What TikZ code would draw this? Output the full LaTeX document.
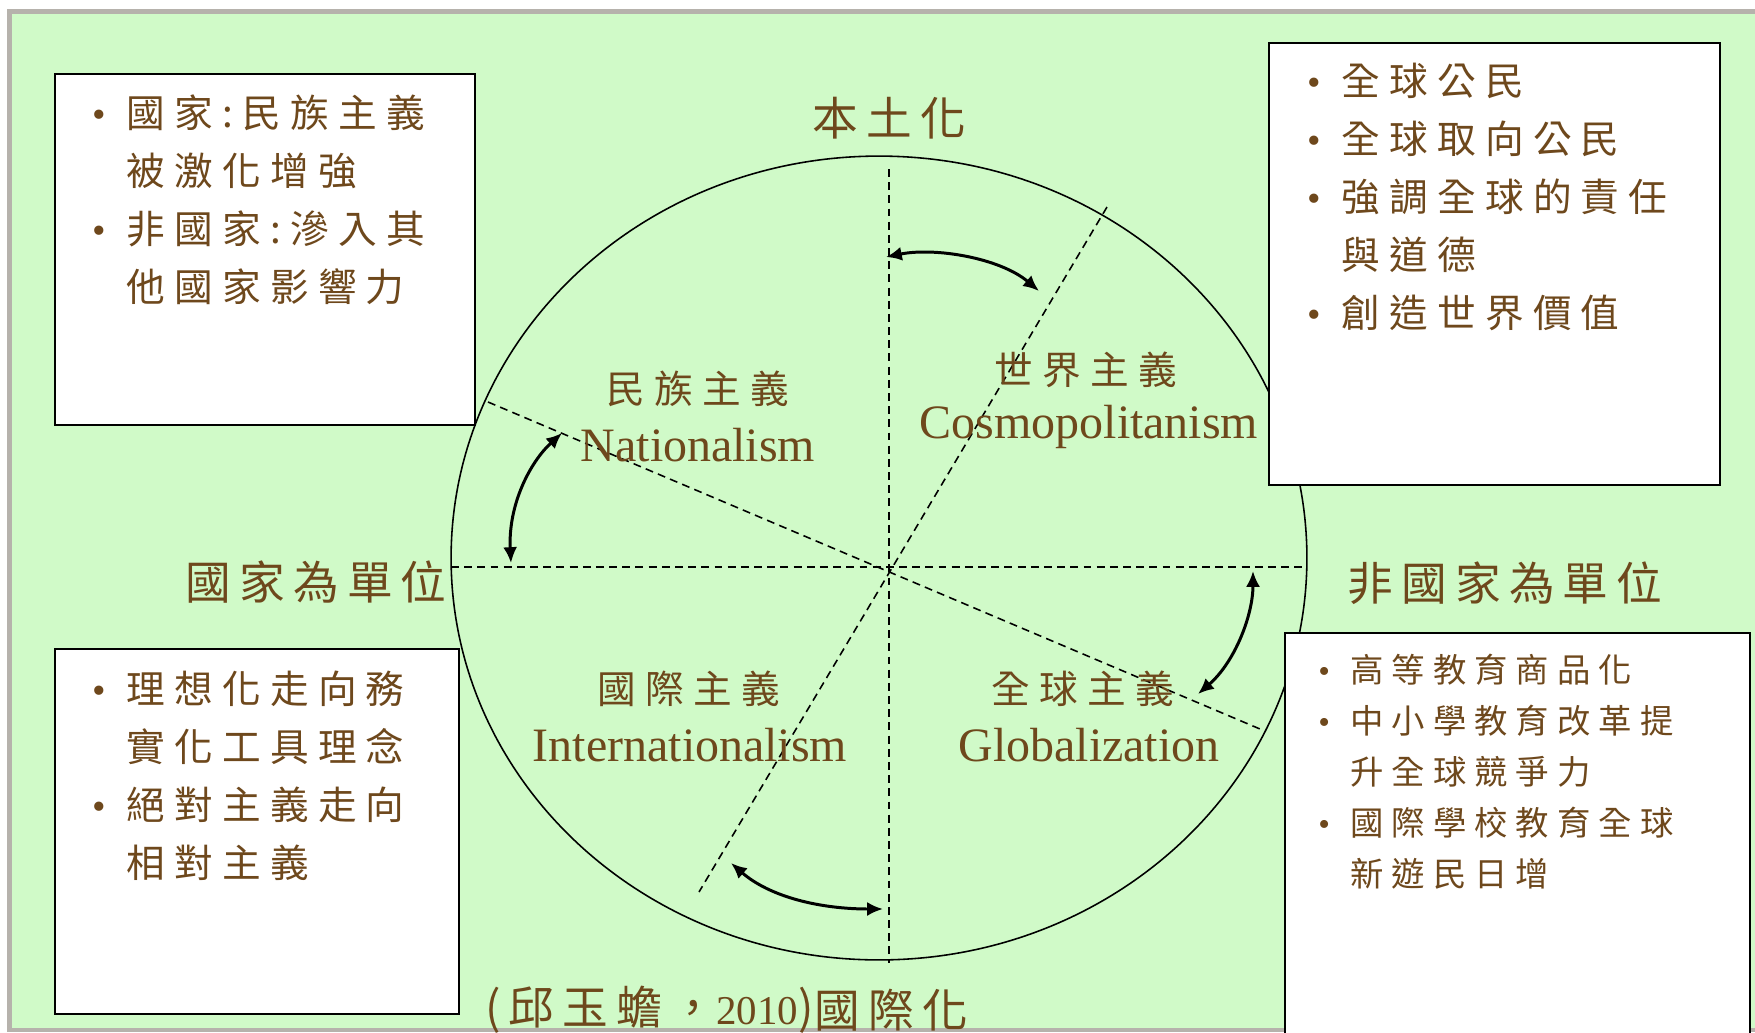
\documentclass[tikz,border=0pt]{standalone}
\usepackage{fontspec}
\setmainfont{Liberation Serif}
\newfontfamily\cjk[LetterSpace=24]{Noto Sans CJK TC}
\newfontfamily\cjkaxis[LetterSpace=18]{Noto Sans CJK TC}
\usetikzlibrary{positioning,arrows.meta}
\definecolor{bgGreen}{RGB}{208,250,200}
\definecolor{frameGray}{RGB}{182,178,172}
\definecolor{txtBrown}{RGB}{110,72,28}
\newcommand{\itm}{\makebox[0.68cm][l]{\rmfamily •}}
\newcommand{\ind}{\hspace*{0.68cm}}
\newcommand{\itms}{\makebox[0.64cm][l]{\rmfamily •}}
\newcommand{\inds}{\hspace*{0.64cm}}

\begin{document}
\begin{tikzpicture}[x=0.02cm, y=-0.02cm,
    box/.style={draw, line width=1pt, fill=white, anchor=north west, inner sep=0pt},
    boxtext/.style={anchor=north west, inner sep=0pt, align=left, text=txtBrown, font=\cjk\fontsize{22}{33}\selectfont},
    axislabel/.style={text=txtBrown, inner sep=0pt, font=\cjkaxis\fontsize{26}{30}\selectfont},
    quadcn/.style={text=txtBrown, inner sep=0pt, font=\cjk\fontsize{22}{26}\selectfont},
    quaden/.style={text=txtBrown, inner sep=0pt, anchor=base, font=\fontsize{27.3}{30}\selectfont},
    axis/.style={dash pattern=on 4.5pt off 3pt, line width=0.9pt},
    swing/.style={{Latex[length=9pt,width=8pt]}-{Latex[length=9pt,width=8pt]}, line width=1.7pt}]
    \useasboundingbox (0,0) rectangle (1755,1032);
    % slide background
    \fill[frameGray] (7,9) rectangle (1755,1032);
    \fill[bgGreen] (12,14) rectangle (1755,1028);

    % circle and axes
    \draw[line width=0.9pt] (879,558) ellipse [x radius=8.56cm, y radius=8.04cm];
    \draw[axis] (889,169) -- (889,963);
    \draw[axis] (451,567) -- (1305,567);
    \draw[axis] (1107,207) -- (699,892);
    \draw[axis] (488,402) -- (1260,729);

    % quadrants
    \node[quadcn] (natcn) at (698,389) {民族主義};
    \node[quaden] (naten) at (698,461) {Nationalism};
    \node[quadcn] (coscn) at (1086,370) {世界主義};
    \node[quaden] (cosen) at (1089,438) {Cosmopolitanism};
    \node[quadcn] (intcn) at (689,689) {國際主義};
    \node[quaden] (inten) at (690,761) {Internationalism};
    \node[quadcn] (glocn) at (1083,689) {全球主義};
    \node[quaden] (gloen) at (1089,761) {Globalization};

    % axis labels
    \node[axislabel] (local) at (889,118) {本土化};
    \node[axislabel] (natunit) at (316,582) {國家為單位};
    \node[axislabel] (nonunit) at (1505,583) {非國家為單位};
    \node[axislabel] (intl) at (891,1010) {國際化};
    \node[axislabel, left=0pt of intl] (cite) {(邱玉蟾，{\rmfamily\fontsize{23.3}{28}\selectfont 2010})};

    % swing arrows
    \coordinate (topa) at (886,257);
    \coordinate (topb) at (1039,291);
    \coordinate (lefta) at (562,433);
    \coordinate (leftb) at (511,563);
    \coordinate (bota) at (731,863);
    \coordinate (botb) at (883,909);
    \coordinate (righta) at (1253,571);
    \coordinate (rightb) at (1198,694);
    \draw[swing] (topa) .. controls (935,247) and (1000,258) .. (topb);
    \draw[swing] (lefta) .. controls (530,462) and (508,505) .. (leftb);
    \draw[swing] (bota) .. controls (770,897) and (820,909) .. (botb);
    \draw[swing] (righta) .. controls (1253,615) and (1235,662) .. (rightb);

    % text boxes
    \node[box, minimum width=8.4cm, minimum height=7.02cm] (natbox) at (54,73) {};
    \node[boxtext, below right=0.42cm and 0.76cm of natbox.north west] (nattext)
        {\itm 國家:民族主義\\ \ind 被激化增強\\ \itm 非國家:滲入其\\ \ind 他國家影響力};
    \node[box, minimum width=9.02cm, minimum height=8.84cm] (cosbox) at (1268,42) {};
    \node[boxtext, below right=0.42cm and 0.78cm of cosbox.north west] (costext)
        {\itm 全球公民\\ \itm 全球取向公民\\ \itm 強調全球的責任\\ \ind 與道德\\ \itm 創造世界價值};
    \node[box, minimum width=8.08cm, minimum height=7.3cm] (intbox) at (54,648) {};
    \node[boxtext, below right=0.46cm and 0.76cm of intbox.north west] (inttext)
        {\itm 理想化走向務\\ \ind 實化工具理念\\ \itm 絕對主義走向\\ \ind 相對主義};
    \node[box, minimum width=9.3cm, minimum height=8.26cm] (globox) at (1284,632) {};
    \node[boxtext, font=\cjk\fontsize{19}{29}\selectfont, below right=0.44cm and 0.68cm of globox.north west] (glotext)
        {\itms 高等教育商品化\\ \itms 中小學教育改革提\\ \inds 升全球競爭力\\ \itms 國際學校教育全球\\ \inds 新遊民日增};
\end{tikzpicture}
\end{document}
